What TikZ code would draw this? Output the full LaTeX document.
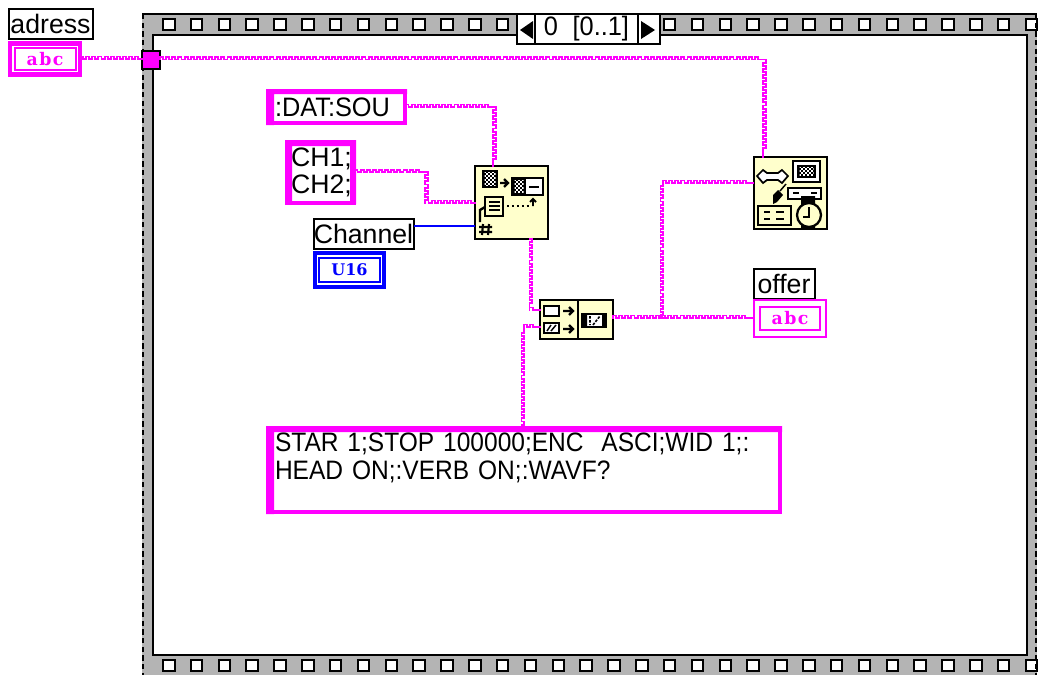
\documentclass[tikz,border=0pt]{standalone}
\usepackage{fontspec}
\setmainfont{Liberation Sans}
\newfontfamily\abcfont{DejaVu Serif}
\usetikzlibrary{decorations,calc}
\pgfdeclaredecoration{crenel}{up}{
  \state{up}[width=4.6pt]{
    \pgfpathlineto{\pgfpoint{0pt}{1.9pt}}
    \pgfpathlineto{\pgfpoint{2.3pt}{1.9pt}}
    \pgfpathlineto{\pgfpoint{2.3pt}{0pt}}
    \pgfpathlineto{\pgfpoint{4.6pt}{0pt}}
  }
  \state{final}{\pgfpathlineto{\pgfpointdecoratedpathlast}}
}
\definecolor{lvpink}{RGB}{255,0,255}
\definecolor{lvblue}{RGB}{0,0,255}
\definecolor{lvgray}{RGB}{180,180,180}
\definecolor{lvcream}{RGB}{255,255,204}
\newcommand\chkb[4]{%
  \fill[black] (#1,#2) rectangle ++(#3,#4);
  \begin{scope}
    \clip (#1+2.5,#2+2.5) rectangle ++(#3-5,#4-5);
    \foreach \r in {0,...,15}{
      \pgfmathsetmacro{\ph}{mod(\r,2)*1.5}
      \draw[white,line width=1.5pt,dash pattern=on 1.5pt off 1.5pt,dash phase=\ph pt] (#1,#2+2*\r) -- ++(#3,0);
    }
  \end{scope}
}
\tikzset{
  lab/.style={draw=black,line width=1.5pt,fill=white,inner sep=0pt,outer sep=0pt,font=\fontsize{20}{22}\selectfont},
  strbox/.style={draw=lvpink,line width=2.9pt,fill=white,inner sep=0pt,outer sep=0pt,align=left,font=\fontsize{20}{20.5}\selectfont},
  ctrl/.style={draw=#1,fill=white,inner sep=0pt,outer sep=0pt,line width=3.5pt},
  ind/.style={draw=lvpink,fill=white,inner sep=0pt,outer sep=0pt,line width=1.5pt},
  inner/.style={draw=#1,line width=1.5pt},
  vi/.style={draw=black,line width=1.5pt,fill=lvcream,inner sep=0pt,outer sep=0pt},
  wire/.style={draw=lvpink,line width=1.45pt,line cap=rect,decorate,decoration={crenel}},
  numwire/.style={draw=lvblue,line width=1.4pt},
  ico/.style={draw=black,line width=1.4pt},
  pegs/.style={draw=black,line width=1.5pt,fill=white},
  sel/.style={draw=black,line width=1.5pt,fill=white,inner sep=0pt,outer sep=0pt}
}
\begin{document}
\begin{tikzpicture}[x=0.75pt,y=-0.75pt]
\useasboundingbox (0,0) rectangle (1043,675);
% frame
\fill[lvgray] (142,14) rectangle (1037,675);
\draw[black,line width=1.5pt] (142,14) -- (1037,14);
\fill[white,draw=black,line width=2pt] (153,35) rectangle (1027,655);
\foreach \k in {0,...,31}{
  \pgfmathsetmacro{\xx}{163+27.83*\k}
  \draw[pegs] (\xx,18.5) rectangle ++(11.5,11);
  \draw[pegs] (\xx,660) rectangle ++(11.5,10.5);
}
\draw[black,line width=1.6pt,dash pattern=on 4pt off 2.5pt] (143,14) -- (143,675);
\draw[black,line width=1.6pt,dash pattern=on 4pt off 2.5pt] (1036,14) -- (1036,675);
% selector
\node[sel,minimum width=18*0.75pt,minimum height=30*0.75pt] (selL) at (526,29) {};
\node[sel,minimum width=22*0.75pt,minimum height=30*0.75pt] (selR) at (649,29) {};
\node[sel,minimum width=103*0.75pt,minimum height=30*0.75pt,font=\fontsize{20}{22}\selectfont] (selV) at (586.5,29) {\addfontfeature{FakeStretch=0.95}0\hspace{0.55em}[0..1]};
\fill[black] (520,30) -- (533,21) -- (533,39) -- cycle;
\fill[black] (655,30) -- (641,21) -- (641,39) -- cycle;
% terminals
\node[lab,minimum width=84*0.75pt,minimum height=30*0.75pt] (adrL) at (50.5,23.5) {adress};
\node[ctrl=lvpink,minimum width=70*0.75pt,minimum height=31*0.75pt,font=\abcfont\bfseries\fontsize{13}{14}\selectfont,text=lvpink] (adr) at (45,59) {\addfontfeature{LetterSpace=8}abc};
\draw[inner=lvpink] (15,48) rectangle (76,70);
\node[draw=black,line width=1.5pt,fill=lvpink,inner sep=0pt,outer sep=0pt,minimum width=18*0.75pt,minimum height=18*0.75pt] (tun) at (151,59.5) {};
\node[strbox,minimum width=137.8*0.75pt,minimum height=32.8*0.75pt,text width=123*0.75pt] (dat) at (336.5,107) {\addfontfeature{FakeStretch=0.95}:DAT:SOU};
\fill[lvpink] (266,89) rectangle (274,125) (266,89) rectangle (407,94);
\node[strbox,minimum width=67.8*0.75pt,minimum height=61.3*0.75pt,text width=59*0.75pt] (ch) at (320.5,172.25) {CH1;\\CH2;};
\fill[lvpink] (285,140) rectangle (292,204) (285,140) rectangle (356,146) (350,140) rectangle (356,204);
\node[lab,minimum width=100*0.75pt,minimum height=30*0.75pt] (chanL) at (363.5,234) {Channel};
\node[ctrl=lvblue,minimum width=69*0.75pt,minimum height=34*0.75pt,font=\abcfont\bfseries\fontsize{12}{13}\selectfont,text=lvblue] (u16) at (349.5,270) {U16};
\draw[inner=lvblue] (319,258) rectangle (380,282);
\node[lab,minimum width=61*0.75pt,minimum height=30*0.75pt] (offL) at (784,283.5) {offer};
\node[ind,minimum width=72*0.75pt,minimum height=37*0.75pt,font=\abcfont\bfseries\fontsize{13}{14}\selectfont,text=lvpink] (off) at (790,318.5) {\addfontfeature{LetterSpace=8}abc};
\draw[inner=lvpink] (760,307) rectangle (820,330);
\node[strbox,minimum width=512.8*0.75pt,minimum height=84.8*0.75pt,text width=498*0.75pt] (big) at (524,470) {\addfontfeature{FakeStretch=0.92}STAR 1;STOP 100000;ENC\ \ ASCI;WID 1;:\\HEAD ON;:VERB ON;:WAVF?\\\mbox{}};
\fill[lvpink] (266,426) rectangle (274,514) (266,426) rectangle (782,432);
% subVIs
\node[vi,minimum width=73*0.75pt,minimum height=73*0.75pt] (fn) at (511.5,202.5) {};
\node[vi,minimum width=73*0.75pt,minimum height=39*0.75pt] (cat) at (576.5,319.5) {};
\node[vi,minimum width=73*0.75pt,minimum height=72*0.75pt] (gpib) at (790,193) {};
% icon: format
\begin{scope}[shift={(475,166)}]
 \chkb{7}{4}{16}{18}
 \draw[ico,line width=1.6pt] (25,17) -- (32,17) (29,13) -- (33,17) -- (29,21);
 \draw[ico,fill=white,line width=1.8pt] (37,12) rectangle (68,29);
 \chkb{37}{12}{14}{17}
 \draw[ico,line width=2pt] (54,21) -- (64,21);
 \draw[ico,fill=lvcream] (10,31) rectangle (28,50);
 \draw[ico] (14,36) -- (25,36) (14,40) -- (25,40) (14,44) -- (25,44);
 \draw[ico,line width=1.8pt] (5,56) -- (5,44) -- (10,41);
 \draw[ico,dash pattern=on 1.5pt off 2.2pt,line width=1.4pt] (32,40) -- (56,40);
 \draw[ico] (58,40) -- (58,34) (55,36) -- (58,33) -- (61,36);
 \draw[ico,line width=1.6pt] (8,58) -- (7,69) (14,58) -- (13,69) (4,61) -- (17,61) (4,66) -- (17,66);
\end{scope}
% icon: concatenate
\begin{scope}[shift={(540,300)}]
 \draw[ico,line width=1.5pt] (38,0) -- (38,39);
 \draw[ico,fill=white] (4,6) rectangle (19,16);
 \draw[ico,fill=white] (4,23) rectangle (19,33);
 \draw[ico,line width=1.1pt] (7,31) -- (11,25) (11,31) -- (16,25);
 \draw[ico,line width=1.7pt] (23,11) -- (33,11) (29,7) -- (33,11) -- (29,15);
 \draw[ico,line width=1.7pt] (23,29) -- (33,29) (29,25) -- (33,29) -- (29,33);
 \draw[ico,fill=white,line width=1.2pt] (42,14) rectangle (66,27);
 \fill[black] (42,14) rectangle (47,27) (62,14) rectangle (66,27);
 \draw[ico,line width=1.2pt,dash pattern=on 2pt off 1pt] (50,16) -- (50,25) (53,25) -- (60,16);
\end{scope}
% icon: instrument
\begin{scope}[shift={(753,157)}]
 \draw[ico,fill=white,line width=1.3pt] (4,19) -- (10,13) -- (14,16) -- (25,16) -- (29,13) -- (35,19) -- (29,26) -- (25,23) -- (14,23) -- (10,26) -- cycle;
 \draw[ico,line width=1.6pt,fill=white] (40,4) rectangle (67,25);
 \chkb{44}{8}{19}{13}
 \draw[ico,fill=white,line width=1.6pt] (35,31) rectangle (68,42);
 \draw[ico,line width=1.5pt] (40,36) -- (46,36) (58,36) -- (64,36);
 \fill[black] (20,47) -- (20,38) -- (25,33) -- (30,38) -- (24,45) -- cycle;
 \draw[ico,line width=1.1pt] (27,34) -- (33,27);
 \draw[ico,line width=1.7pt,fill=lvcream] (5,49) rectangle (38,68);
 \draw[ico,line width=1.5pt] (11,55) -- (17,55) (23,55) -- (31,55) (11,62) -- (17,62) (23,62) -- (31,62);
 \fill[black] (48,39) rectangle (62,48) (48,67) rectangle (62,72);
 \draw[ico,line width=1.7pt,fill=lvcream] (56,58) circle (12);
 \draw[ico,line width=1.5pt] (56,50) -- (56,60) -- (50,60);
\end{scope}
% wires
\coordinate (gpibTop) at ([shift={(-27,0)}]gpib.north);
\coordinate (fnTop) at ([shift={(-18.5,0)}]fn.north);
\coordinate (fnIn) at ([shift={(0,0.5)}]fn.west);
\coordinate (fnOut) at ([shift={(18,0)}]fn.south);
\coordinate (catA) at ([shift={(0,-9.5)}]cat.west);
\coordinate (catB) at ([shift={(0,7.5)}]cat.west);
\coordinate (gpibIn) at ([shift={(0,-10)}]gpib.west);
\coordinate (chA) at ([shift={(71,0)}]ch.east);
\coordinate (catOut) at (cat.east |- 0,318);
\coordinate (offIn) at (off.west |- 0,318);
\coordinate (branch) at (663,318);
\draw[wire] (adr.east) -- (adr.east -| tun.west);
\draw[wire] (tun.east) -- (tun.east -| gpibTop);
\draw[wire] (tun.east -| gpibTop) -- (gpibTop);
\draw[wire] (dat.east) -- (dat.east -| fnTop);
\draw[wire] (dat.east -| fnTop) -- (fnTop);
\draw[wire] (ch.east) -- (chA);
\draw[wire] (chA) -- (chA |- fnIn);
\draw[wire] (chA |- fnIn) -- (fnIn);
\draw[numwire] (chanL.east |- 0,226) -- (fn.west |- 0,226);
\draw[wire] (fnOut) -- (fnOut |- catA);
\draw[wire] (fnOut |- catA) -- (catA);
\draw[wire] (big.north) -- (big.north |- catB);
\draw[wire] (big.north |- catB) -- (catB);
\draw[wire] (catOut) -- (offIn);
\draw[wire] (branch) -- (branch |- gpibIn);
\draw[wire] (branch |- gpibIn) -- (gpibIn);
\end{tikzpicture}
\end{document}
